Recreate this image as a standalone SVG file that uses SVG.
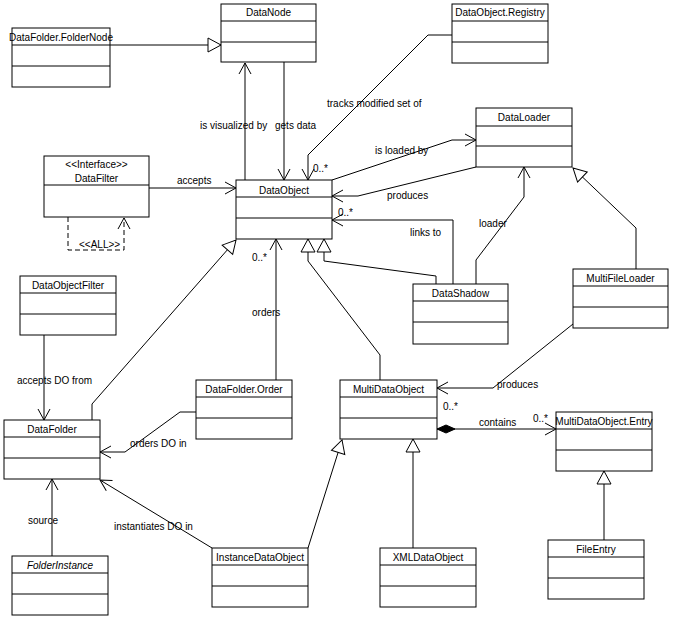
<svg xmlns="http://www.w3.org/2000/svg" width="673" height="620" viewBox="0 0 673 620">
<style>
.b{fill:#fff;stroke:#000;stroke-width:1}
.t{font-family:"Liberation Sans",Arial,sans-serif;font-size:10px;fill:#000}
.c{text-anchor:middle}
.l{fill:none;stroke:#000;stroke-width:1}
.a{marker-end:url(#open)}
.g{marker-end:url(#tri)}
</style>
<defs>
<marker id="open" markerUnits="userSpaceOnUse" markerWidth="20" markerHeight="20" refX="0" refY="0" orient="auto" overflow="visible"><path d="M-11,-6 L0,0 L-11,6" fill="none" stroke="#000"/></marker>
<marker id="tri" markerUnits="userSpaceOnUse" markerWidth="20" markerHeight="20" refX="0" refY="0" orient="auto" overflow="visible"><path d="M-13,-7 L0,0 L-13,7 Z" fill="#fff" stroke="#000"/></marker>
<marker id="dia" markerUnits="userSpaceOnUse" markerWidth="24" markerHeight="20" refX="0" refY="0" orient="auto" overflow="visible"><path d="M0,0 L9,-4 L18,0 L9,4 Z" fill="#000" stroke="#000"/></marker>
</defs>
<rect width="673" height="620" fill="#fff"/>
<g id="connectors">
<line class="l g" x1="110" y1="45" x2="221" y2="45"/>
<line class="l a" x1="245" y1="180" x2="245" y2="63"/>
<line class="l a" x1="284" y1="62" x2="284" y2="180"/>
<polyline class="l a" points="453,35 428,35 308,155 308,180"/>
<line class="l a" x1="149" y1="188" x2="236" y2="188"/>
<polyline class="l a" points="68,217 68,250 124,250 124,218" stroke-dasharray="5,3"/>
<polyline class="l a" points="332,180 452,140 476,140"/>
<polyline class="l a" points="476,167 358,196 332,196"/>
<polyline class="l a" points="453,284 453,220 332,220"/>
<polyline class="l g" points="436,284 436,276 324,261 324,239"/>
<polyline class="l a" points="476,284 476,260 524,197 524,167"/>
<polyline class="l g" points="636,269 636,228 573,168"/>
<polyline class="l g" points="380,380 380,355 308,261 308,239"/>
<polyline class="l g" points="92,420 92,404 236,240"/>
<line class="l a" x1="276" y1="380" x2="276" y2="239"/>
<polyline class="l a" points="196,412 180,412 125,452 100,452"/>
<line class="l a" x1="44" y1="335" x2="44" y2="420"/>
<line class="l a" x1="52" y1="556" x2="52" y2="479"/>
<line class="l a" x1="212" y1="548" x2="100" y2="480"/>
<polyline class="l g" points="308,548 342,440"/>
<line class="l g" x1="413" y1="548" x2="413" y2="439"/>
<polyline class="l a" points="573,324 493,388 437,388"/>
<line class="l a" x1="437" y1="429" x2="556" y2="429" marker-start="url(#dia)"/>
<line class="l g" x1="604" y1="540" x2="604" y2="471"/>
</g>
<g id="labels" class="t">
<text x="200" y="129">is visualized by</text>
<text x="275" y="129">gets data</text>
<text x="327" y="107">tracks modified set of</text>
<text x="313" y="172">0..*</text>
<text x="177" y="184">accepts</text>
<text x="79" y="248">&lt;&lt;ALL&gt;&gt;</text>
<text x="375" y="154">is loaded by</text>
<text x="387" y="199">produces</text>
<text x="338" y="216">0..*</text>
<text x="410" y="236">links to</text>
<text x="479" y="227">loader</text>
<text x="252" y="316">orders</text>
<text x="252" y="261">0..*</text>
<text x="130" y="447">orders DO in</text>
<text x="17" y="384">accepts DO from</text>
<text x="28" y="524">source</text>
<text x="114" y="530">instantiates DO in</text>
<text x="497" y="388">produces</text>
<text x="443" y="410">0..*</text>
<text x="479" y="426">contains</text>
<text x="533" y="422">0..*</text>
</g>
<g id="DataNode"><rect class="b" x="221" y="4" width="95" height="58"/><line class="l" x1="221" y1="21" x2="316" y2="21"/><line class="l" x1="221" y1="42" x2="316" y2="42"/><text class="t c" x="268.5" y="16">DataNode</text></g>
<g id="FolderNode"><rect class="b" x="12" y="28" width="98" height="59"/><line class="l" x1="12" y1="45" x2="110" y2="45"/><line class="l" x1="12" y1="66" x2="110" y2="66"/><text class="t c" x="61" y="41">DataFolder.FolderNode</text></g>
<g id="Registry"><rect class="b" x="452" y="4" width="96" height="59"/><line class="l" x1="452" y1="21" x2="548" y2="21"/><line class="l" x1="452" y1="42" x2="548" y2="42"/><text class="t c" x="500" y="16">DataObject.Registry</text></g>
<g id="DataFilter"><rect class="b" x="44" y="156" width="105" height="61"/><line class="l" x1="44" y1="185" x2="149" y2="185"/><text class="t c" x="96.5" y="168">&lt;&lt;Interface&gt;&gt;</text><text class="t c" x="96.5" y="182">DataFilter</text></g>
<g id="DataObject"><rect class="b" x="236" y="180" width="96" height="59"/><line class="l" x1="236" y1="197" x2="332" y2="197"/><line class="l" x1="236" y1="218" x2="332" y2="218"/><text class="t c" x="284" y="194">DataObject</text></g>
<g id="DataLoader"><rect class="b" x="476" y="108" width="96" height="59"/><line class="l" x1="476" y1="126" x2="572" y2="126"/><line class="l" x1="476" y1="146" x2="572" y2="146"/><text class="t c" x="524" y="121">DataLoader</text></g>
<g id="DataShadow"><rect class="b" x="413" y="284" width="95" height="60"/><line class="l" x1="413" y1="301" x2="508" y2="301"/><line class="l" x1="413" y1="322" x2="508" y2="322"/><text class="t c" x="460.5" y="297">DataShadow</text></g>
<g id="MultiFileLoader"><rect class="b" x="573" y="269" width="95" height="59"/><line class="l" x1="573" y1="286" x2="668" y2="286"/><line class="l" x1="573" y1="307" x2="668" y2="307"/><text class="t c" x="620.5" y="282">MultiFileLoader</text></g>
<g id="DataObjectFilter"><rect class="b" x="20" y="276" width="96" height="59"/><line class="l" x1="20" y1="293" x2="116" y2="293"/><line class="l" x1="20" y1="314" x2="116" y2="314"/><text class="t c" x="68" y="289">DataObjectFilter</text></g>
<g id="DataFolder"><rect class="b" x="4" y="420" width="96" height="59"/><line class="l" x1="4" y1="437" x2="100" y2="437"/><line class="l" x1="4" y1="458" x2="100" y2="458"/><text class="t c" x="52" y="433">DataFolder</text></g>
<g id="DataFolderOrder"><rect class="b" x="196" y="380" width="96" height="59"/><line class="l" x1="196" y1="397" x2="292" y2="397"/><line class="l" x1="196" y1="418" x2="292" y2="418"/><text class="t c" x="244" y="393">DataFolder.Order</text></g>
<g id="FolderInstance"><rect class="b" x="12" y="556" width="96" height="59"/><line class="l" x1="12" y1="573" x2="108" y2="573"/><line class="l" x1="12" y1="594" x2="108" y2="594"/><text class="t c" x="60" y="569" font-style="italic">FolderInstance</text></g>
<g id="InstanceDataObject"><rect class="b" x="212" y="548" width="96" height="59"/><line class="l" x1="212" y1="565" x2="308" y2="565"/><line class="l" x1="212" y1="586" x2="308" y2="586"/><text class="t c" x="260" y="561">InstanceDataObject</text></g>
<g id="MultiDataObject"><rect class="b" x="340" y="380" width="97" height="59"/><line class="l" x1="340" y1="397" x2="437" y2="397"/><line class="l" x1="340" y1="418" x2="437" y2="418"/><text class="t c" x="388.5" y="393">MultiDataObject</text></g>
<g id="Entry"><rect class="b" x="556" y="412" width="96" height="59"/><line class="l" x1="556" y1="429" x2="652" y2="429"/><line class="l" x1="556" y1="450" x2="652" y2="450"/><text class="t c" x="604" y="425">MultiDataObject.Entry</text></g>
<g id="XMLDataObject"><rect class="b" x="380" y="548" width="96" height="59"/><line class="l" x1="380" y1="565" x2="476" y2="565"/><line class="l" x1="380" y1="586" x2="476" y2="586"/><text class="t c" x="428" y="561">XMLDataObject</text></g>
<g id="FileEntry"><rect class="b" x="548" y="540" width="96" height="59"/><line class="l" x1="548" y1="557" x2="644" y2="557"/><line class="l" x1="548" y1="578" x2="644" y2="578"/><text class="t c" x="596" y="553">FileEntry</text></g>
</svg>
